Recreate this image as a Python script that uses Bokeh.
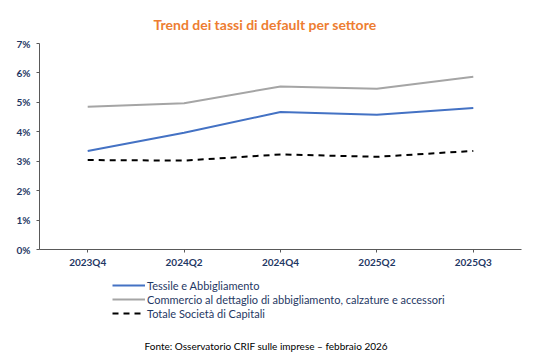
from bokeh.plotting import figure
from bokeh.layouts import column
from bokeh.models import (FactorRange, Range1d, FixedTicker, NumeralTickFormatter,
                          Legend, LegendItem, Label)
from bokeh.embed import file_html
from bokeh.resources import INLINE

categories = ["2023Q4", "2024Q2", "2024Q4", "2025Q2", "2025Q3"]
tessile = [0.0335, 0.0397, 0.0467, 0.0458, 0.0481]
commercio = [0.0485, 0.0497, 0.0554, 0.0546, 0.0587]
totale = [0.0304, 0.0302, 0.0323, 0.0315, 0.0335]
y_ticks = [0, 0.01, 0.02, 0.03, 0.04, 0.05, 0.06, 0.07]

title_text = "Trend dei tassi di default per settore"
source_text = "Fonte: Osservatorio CRIF sulle imprese \u2013 febbraio 2026"
names = ["Tessile e Abbigliamento",
         "Commercio al dettaglio di abbigliamento, calzature e accessori",
         "Totale Societ\u00e0 di Capitali"]

FONT = "Lato"
NAVY = "#1F3864"
COLORS = ["#4472C4", "#A5A5A5", "black"]
DASHES = ["solid", "solid", "6 5"]
SERIES = [tessile, commercio, totale]

# main chart
p = figure(width=534, height=274, x_range=FactorRange(*categories, range_padding=0),
           y_range=Range1d(0, 0.07), output_backend="svg", toolbar_location=None,
           min_border_left=39, min_border_right=13, min_border_top=43,
           min_border_bottom=25)
p.outline_line_color = None
p.xgrid.visible = False
p.ygrid.visible = False

p.title.text = title_text
p.title.align = "left"
p.title.offset = 114
p.title.text_font = FONT
p.title.text_font_style = "bold"
p.title.text_font_size = "14px"
p.title.text_color = "#ED7D31"
p.title.standoff = 21

for vals, c, d in zip(SERIES, COLORS, DASHES):
    p.line(categories, vals, line_color=c, line_width=2, line_dash=d)

p.yaxis.ticker = FixedTicker(ticks=y_ticks)
p.yaxis.formatter = NumeralTickFormatter(format="0%")
for ax in (p.xaxis, p.yaxis):
    ax.axis_line_color = "#595959"
    ax.axis_line_width = 1
    ax.major_tick_line_color = "#595959"
    ax.major_tick_out = 3
    ax.major_tick_in = 0
    ax.minor_tick_line_color = None
    ax.major_label_text_font = FONT
    ax.major_label_text_font_style = "bold"
    ax.major_label_text_font_size = "10px"
    ax.major_label_text_color = NAVY
p.yaxis.major_label_standoff = 6
p.xaxis.major_label_standoff = 3

# legend + source strip (frame aligned with the main chart's frame)
q = figure(width=534, height=79, x_range=Range1d(100, 200), y_range=Range1d(100, 200),
           output_backend="svg", toolbar_location=None, min_border_left=39,
           min_border_right=13, min_border_top=0, min_border_bottom=0)
q.axis.visible = False
q.grid.visible = False
q.outline_line_color = None

items = []
idx = list(range(len(categories)))
for name, vals, c, d in zip(names, SERIES, COLORS, DASHES):
    # legend-only renderers: their data lies outside this strip's ranges
    r = q.line(idx, vals, line_color=c, line_width=2, line_dash=d)
    items.append(LegendItem(label=name, renderers=[r]))

legend = Legend(items=items, location=(73, 33), orientation="vertical",
                padding=0, margin=0, spacing=0, border_line_color=None,
                background_fill_alpha=0, glyph_width=33, glyph_height=14,
                label_height=14, label_standoff=2,
                label_text_font=FONT, label_text_font_size="11px",
                label_text_color=NAVY)
q.add_layout(legend, "center")

q.add_layout(Label(x=105, y=8, x_units="screen", y_units="screen", text=source_text,
                   text_font=FONT, text_font_size="10px", text_color="black",
                   text_align="left", text_baseline="middle"))

layout = column(p, q, spacing=0)
open("out.html", "w").write(file_html(layout, INLINE))
